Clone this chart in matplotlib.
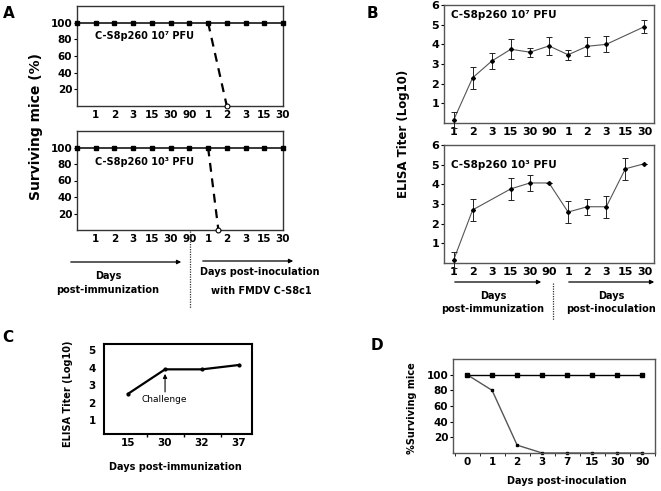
import numpy as np
import matplotlib
matplotlib.use("Agg")
import matplotlib.pyplot as plt

W, H = 661, 491

# ---- Panel A: supervivencia (%) ----
dias_a = ["1", "2", "3", "15", "30", "90", "1", "2", "3", "15", "30"]
pos_a = [0, 1, 2, 3, 4, 5, 6, 7, 8, 9, 10, 11]
sobrev_a = [100, 100, 100, 100, 100, 100, 100, 100, 100, 100, 100, 100]
control_a_hi_x = [7, 8]
control_a_hi_y = [100, 0]
control_a_lo_x = [7, 7.55]
control_a_lo_y = [100, 0]

# ---- Panel B: ELISA (log10) ----
dias_b = ["1", "2", "3", "15", "30", "90", "1", "2", "3", "15", "30"]
pos_b_hi = [1, 2, 3, 4, 5, 6, 7, 8, 9, 11]
titulo_b_hi = [0.14, 2.3, 3.15, 3.75, 3.6, 3.92, 3.47, 3.9, 4.0, 4.9]
error_b_hi = [0.4, 0.56, 0.4, 0.5, 0.23, 0.44, 0.26, 0.48, 0.4, 0.33]
pos_b_lo = [1, 2, 4, 5, 6, 7, 8, 9, 10, 11]
titulo_b_lo = [0.14, 2.7, 3.77, 4.07, 4.07, 2.59, 2.86, 2.86, 4.79, 5.05]
error_b_lo = [0.4, 0.57, 0.57, 0.4, 0.0, 0.58, 0.4, 0.57, 0.56, 0.0]

# ---- Panel C ----
dias_c = ["15", "30", "32", "37"]
titulo_c = [2.5, 3.9, 3.9, 4.15]

# ---- Panel D ----
dias_d = ["0", "1", "2", "3", "7", "15", "30", "90"]
sobrev_d_vac = [100, 100, 100, 100, 100, 100, 100, 100]
sobrev_d_ctrl = [100, 80, 10, 0, 0, 0, 0, 0]

plt.rcParams['font.family'] = ['DejaVu Sans']
plt.rcParams['font.weight'] = 'bold'

fig = plt.figure(figsize=(W / 100, H / 100), dpi=100)


def caja(l, t, r, b):
    return [l / W, 1 - b / H, (r - l) / W, (b - t) / H]


def fp(x, y):
    return (x / W, 1 - y / H)


def texto(x, y, s, **kw):
    kw.setdefault('ha', 'center')
    kw.setdefault('va', 'center')
    kw.setdefault('fontsize', 7)
    kw.setdefault('fontweight', 'bold')
    fig.text(x / W, 1 - y / H, s, **kw)


def flecha(x0, x1, y):
    fig.add_artist(matplotlib.patches.FancyArrowPatch(
        fp(x0, y), fp(x1, y), transform=fig.transFigure,
        arrowstyle='-|>', mutation_scale=6, lw=0.9, color='black'))


def punteada(x, y0, y1):
    fig.add_artist(matplotlib.lines.Line2D(
        [x / W, x / W], [1 - y0 / H, 1 - y1 / H], transform=fig.transFigure,
        ls=(0, (1, 1)), lw=0.9, color='#333333'))


def estilo(ax, color='#333333', lw=1.0, size=7.5):
    for s in ax.spines.values():
        s.set_color(color)
        s.set_linewidth(lw)
    ax.tick_params(axis='x', length=0, pad=3, labelsize=size)
    ax.tick_params(axis='y', length=2, pad=1.5, labelsize=size)


# Panel A
for caja_px, cx, cy, etiqueta, ty in [
        ((77, 6, 283, 106), control_a_hi_x, control_a_hi_y, "C-S8p260 10⁷ PFU", 36),
        ((77, 131, 283, 230), control_a_lo_x, control_a_lo_y, "C-S8p260 10³ PFU", 162)]:
    ax = fig.add_axes(caja(*caja_px))
    ax.plot(pos_a, sobrev_a, color='black', lw=1.1, marker='s', ms=2.5, clip_on=False, zorder=3)
    ax.plot(cx, cy, color='black', lw=1.6, ls=(0, (4, 3)), zorder=2)
    ax.plot(cx[-1], cy[-1], marker='o', ms=3.5, mfc='white', mec='black', mew=0.8, clip_on=False, zorder=4)
    ax.set_xlim(0, 11)
    ax.set_ylim(0, 120)
    ax.set_xticks(range(1, 12))
    ax.set_xticklabels(dias_a)
    ax.set_yticks([20, 40, 60, 80, 100])
    estilo(ax)
    texto(95, ty, etiqueta, ha='left', fontsize=7)

texto(36, 127, "Surviving mice (%)", rotation=90, fontsize=10)
texto(9, 13, "A", fontsize=11)
flecha(68, 184, 262)
texto(108, 276, "Days")
texto(108, 290, "post-immunization")
punteada(190, 231, 308)
flecha(200, 296, 261)
texto(260, 272, "Days post-inoculation")
texto(261, 291, "with FMDV C-S8c1")

# Panel B
for caja_px, px_, val, err, etiqueta, ty in [
        ((444, 5, 654, 123), pos_b_hi, titulo_b_hi, error_b_hi, "C-S8p260 10⁷ PFU", 15),
        ((444, 145, 654, 263), pos_b_lo, titulo_b_lo, error_b_lo, "C-S8p260 10³ PFU", 165)]:
    ax = fig.add_axes(caja(*caja_px))
    ax.plot(px_, val, color='#555555', lw=0.8, zorder=2)
    ax.errorbar(px_, val, yerr=err, fmt='D', ms=2, color='black', ecolor='#222222',
                elinewidth=0.7, capsize=2, capthick=0.7, zorder=3, clip_on=False)
    ax.set_xlim(0.5, 11.5)
    ax.set_ylim(0, 6)
    ax.set_xticks(range(1, 12))
    ax.set_xticklabels(dias_b)
    ax.set_yticks([1, 2, 3, 4, 5, 6])
    estilo(ax, color='#555555', size=8)
    texto(451, ty, etiqueta, ha='left', fontsize=7.5)

texto(403, 134, "ELISA Titer (Log10)", rotation=90, fontsize=8.5)
texto(372, 13, "B", fontsize=11)
flecha(452, 544, 282)
flecha(566, 657, 282)
punteada(553, 283, 320)
texto(493, 296, "Days")
texto(493, 309, "post-immunization")
texto(611, 296, "Days")
texto(611, 309, "post-inoculation")

# Panel C
ax = fig.add_axes(caja(104, 344, 252, 434))
ax.plot(range(1, 5), titulo_c, color='black', lw=1.6, marker='o', ms=2)
ax.set_xlim(0.35, 4.35)
ax.set_ylim(0.2, 5.35)
ax.set_xticks(range(1, 5))
ax.set_xticklabels(dias_c)
ax.set_xticks([1.5, 2.5, 3.5], minor=True)
ax.set_yticks([1, 2, 3, 4, 5])
estilo(ax, color='black', lw=1.5)
ax.tick_params(axis='x', which='minor', length=2, width=1)
ax.tick_params(axis='y', length=0, pad=6)
ax.annotate("", xy=(2, titulo_c[1] - 0.1), xytext=(2, titulo_c[1] - 1.45),
            arrowprops=dict(arrowstyle='-|>', mutation_scale=6, lw=0.8, color='black'))
texto(164, 400, "Challenge", fontsize=6.5, fontweight='normal')
texto(68, 394, "ELISA Titer (Log10)", rotation=90, fontsize=7)
texto(175, 467, "Days post-immunization")
texto(8, 338, "C", fontsize=11)

# Panel D
ax = fig.add_axes(caja(453, 359, 655, 453))
ax.plot(range(8), sobrev_d_vac, color='black', lw=1.0, marker='s', ms=2.5, zorder=3)
ax.plot(range(8), sobrev_d_ctrl, color='#555555', lw=1.0, marker='s', ms=1.8,
        mfc='black', mec='black', clip_on=False, zorder=2)
ax.set_xlim(-0.56, 7.5)
ax.set_ylim(0, 120)
ax.set_xticks(range(8))
ax.set_xticklabels(dias_d)
ax.set_xticks(np.arange(-0.5, 8, 1), minor=True)
ax.set_yticks([20, 40, 60, 80, 100])
estilo(ax, color='#555555')
ax.tick_params(axis='x', which='minor', length=2)
texto(412, 408, "%Surviving mice", rotation=90, fontsize=7)
texto(567, 481, "Days post-inoculation")
texto(377, 345, "D", fontsize=11)

fig.savefig("out.png", dpi=100)
